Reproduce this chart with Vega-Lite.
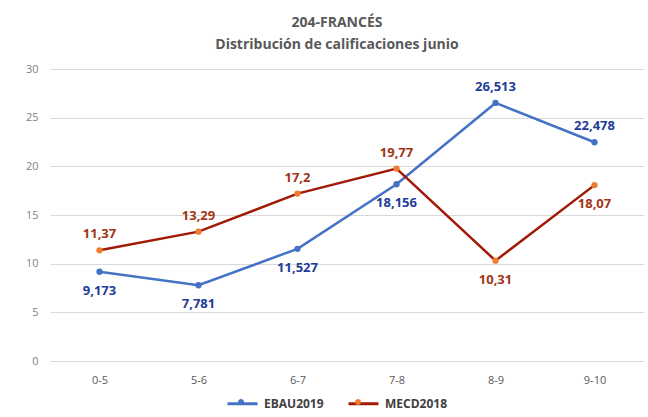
{
  "$schema": "https://vega.github.io/schema/vega-lite/v6.json",
  "width": 594,
  "height": 292,
  "padding": {"left": 10, "top": 16, "right": 4, "bottom": 5},
  "background": "white",
  "title": {
    "text": ["204-FRANCÉS", "Distribución de calificaciones junio"],
    "font": "Open Sans",
    "fontSize": 14,
    "fontWeight": "bold",
    "color": "#595959",
    "lineHeight": 22,
    "anchor": "middle",
    "frame": "group",
    "dx": -10,
    "offset": 11
  },
  "data": {
    "values": [
      {"cat": "0-5", "series": "EBAU2019", "value": 9.173},
      {"cat": "5-6", "series": "EBAU2019", "value": 7.781},
      {"cat": "6-7", "series": "EBAU2019", "value": 11.527},
      {"cat": "7-8", "series": "EBAU2019", "value": 18.156},
      {"cat": "8-9", "series": "EBAU2019", "value": 26.513},
      {"cat": "9-10", "series": "EBAU2019", "value": 22.478},
      {"cat": "0-5", "series": "MECD2018", "value": 11.37},
      {"cat": "5-6", "series": "MECD2018", "value": 13.29},
      {"cat": "6-7", "series": "MECD2018", "value": 17.2},
      {"cat": "7-8", "series": "MECD2018", "value": 19.77},
      {"cat": "8-9", "series": "MECD2018", "value": 10.31},
      {"cat": "9-10", "series": "MECD2018", "value": 18.07}
    ]
  },
  "encoding": {
    "x": {
      "field": "cat",
      "type": "nominal",
      "sort": ["0-5", "5-6", "6-7", "7-8", "8-9", "9-10"],
      "scale": {"type": "point", "padding": 0.5},
      "axis": {
        "title": null,
        "domain": false,
        "ticks": false,
        "grid": false,
        "labelAngle": 0,
        "labelPadding": 13,
        "labelColor": "#595959",
        "labelFontSize": 11,
        "labelFont": "Open Sans"
      }
    },
    "y": {
      "field": "value",
      "type": "quantitative",
      "scale": {"domain": [0, 30], "nice": false},
      "axis": {
        "title": null,
        "values": [0, 5, 10, 15, 20, 25, 30],
        "domain": false,
        "ticks": false,
        "labelPadding": 12,
        "minExtent": 40,
        "maxExtent": 40,
        "labelColor": "#7F7F7F",
        "labelFontSize": 11,
        "labelFont": "Open Sans",
        "gridColor": "#D9D9D9",
        "gridWidth": 1
      }
    }
  },
  "layer": [
    {
      "mark": {"type": "line", "strokeWidth": 2.5},
      "encoding": {
        "stroke": {
          "field": "series",
          "type": "nominal",
          "scale": {"domain": ["EBAU2019", "MECD2018"], "range": ["#4472C4", "#A01A05"]},
          "legend": {
            "title": null,
            "orient": "none",
            "direction": "horizontal",
            "legendX": 176,
            "legendY": 318,
            "symbolType": "stroke",
            "symbolSize": 900,
            "symbolStrokeWidth": 3,
            "labelOffset": 5,
            "columnPadding": 18,
            "labelFontSize": 12,
            "labelFontWeight": "bold",
            "labelFont": "Open Sans",
            "labelColor": "#404040"
          }
        }
      }
    },
    {
      "mark": {"type": "circle", "size": 40, "opacity": 1},
      "encoding": {
        "fill": {
          "field": "series",
          "type": "nominal",
          "scale": {"range": ["#4472C4", "#ED7D31"]},
          "legend": {
            "title": null,
            "orient": "none",
            "direction": "horizontal",
            "legendX": 176,
            "legendY": 318,
            "symbolType": "M0.2,0A0.2,0.2,0,1,1,-0.2,0A0.2,0.2,0,1,1,0.2,0Z",
            "symbolSize": 900,
            "symbolStrokeWidth": 0,
            "symbolOpacity": 1,
            "labelOffset": 5,
            "columnPadding": 82,
            "labelExpr": "''",
            "labelFontSize": 12,
            "labelFont": "Open Sans"
          }
        }
      }
    },
    {
      "transform": [{"filter": "(datum.series == 'EBAU2019') == (datum.cat == '8-9' || datum.cat == '9-10')"}],
      "mark": {"type": "text", "dy": -16, "font": "Open Sans", "fontSize": 13, "fontWeight": "bold"},
      "encoding": {
        "text": {"field": "value", "type": "quantitative", "format": ".5~g"},
        "color": {
          "field": "series",
          "type": "nominal",
          "scale": {"domain": ["EBAU2019", "MECD2018"], "range": ["#1F3C99", "#A23517"]},
          "legend": null
        }
      }
    },
    {
      "transform": [{"filter": "(datum.series == 'EBAU2019') != (datum.cat == '8-9' || datum.cat == '9-10')"}],
      "mark": {"type": "text", "dy": 19, "font": "Open Sans", "fontSize": 13, "fontWeight": "bold"},
      "encoding": {
        "text": {"field": "value", "type": "quantitative", "format": ".5~g"},
        "color": {
          "field": "series",
          "type": "nominal",
          "scale": {"domain": ["EBAU2019", "MECD2018"], "range": ["#1F3C99", "#A23517"]},
          "legend": null
        }
      }
    }
  ],
  "config": {
    "view": {"stroke": null},
    "locale": {
      "number": {"decimal": ",", "thousands": ".", "grouping": [3], "currency": ["", " €"]}
    }
  }
}
